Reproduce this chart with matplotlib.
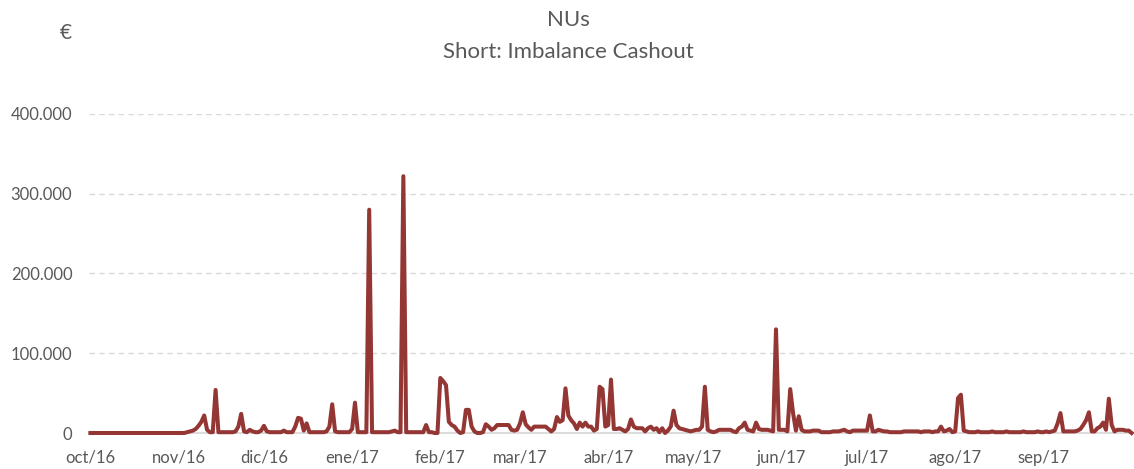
import numpy as np
import pandas as pd
import matplotlib
matplotlib.use("Agg")
import matplotlib.pyplot as plt
from matplotlib.ticker import FuncFormatter

# daily values in thousands of euro, one row per month (oct/16 .. oct/17)
oct16 = [0] * 31
nov16 = [0, 0, 0, 1, 2, 3, 5, 9, 14, 22, 4, 1, 1, 54, 1, 1, 1, 1, 1, 1,
         2, 8, 24, 2, 1, 4, 2, 1, 1, 3]
dic16 = [9, 2, 1, 1, 1, 1, 1, 3, 1, 1, 1, 8, 19, 18, 3, 12, 1, 1, 1, 1,
         1, 1, 2, 8, 36, 2, 1, 1, 1, 1, 1]
ene17 = [5, 38, 1, 1, 1, 1, 280, 1, 1, 1, 1, 1, 1, 1, 2, 3, 1, 1, 322, 1,
         1, 1, 1, 1, 1, 1, 10, 1, 1, 0, 0]
feb17 = [69, 65, 60, 14, 10, 8, 3, 0, 1, 29, 29, 8, 2, 0, 0, 1, 11, 8, 4, 6,
         10, 10, 10, 10, 10, 4, 3, 4]
mar17 = [12, 26, 11, 7, 4, 8, 8, 8, 8, 8, 5, 2, 5, 20, 14, 16, 56, 22, 16, 12,
         5, 13, 8, 13, 8, 8, 3, 5, 58, 55, 8]
abr17 = [10, 67, 5, 5, 6, 4, 2, 5, 17, 8, 6, 6, 6, 2, 6, 8, 4, 6, 1, 6,
         0, 3, 8, 28, 10, 6, 5, 4, 3, 2]
may17 = [3, 4, 4, 8, 58, 4, 2, 1, 2, 4, 4, 4, 4, 4, 2, 1, 6, 8, 13, 4,
         3, 2, 13, 5, 4, 4, 4, 3, 2, 130, 4]
jun17 = [4, 4, 2, 55, 25, 3, 21, 4, 2, 2, 2, 3, 3, 3, 1, 1, 1, 1, 2, 2,
         2, 3, 4, 2, 1, 3, 3, 3, 3, 3]
jul17 = [3, 22, 2, 2, 4, 3, 2, 2, 1, 1, 1, 1, 1, 2, 2, 2, 2, 2, 2, 1,
         2, 2, 2, 1, 2, 2, 8, 2, 3, 5, 1]
ago17 = [2, 44, 48, 3, 2, 1, 1, 1, 2, 1, 1, 1, 1, 2, 1, 1, 1, 1, 2, 1,
         1, 1, 1, 1, 2, 1, 1, 1, 1, 2, 1]
sep17 = [1, 2, 1, 2, 3, 12, 25, 2, 2, 2, 2, 2, 3, 5, 10, 16, 26, 2, 2, 6,
         8, 13, 4, 43, 10, 2, 4, 4, 4, 3]
oct17 = [3, 0]

month_labels = ["oct/16", "nov/16", "dic/16", "ene/17", "feb/17", "mar/17",
                "abr/17", "may/17", "jun/17", "jul/17", "ago/17", "sep/17"]

values = np.array(oct16 + nov16 + dic16 + ene17 + feb17 + mar17 + abr17 +
                  may17 + jun17 + jul17 + ago17 + sep17 + oct17) * 1000
dates = pd.date_range("2016-10-01", periods=len(values), freq="D")
month_starts = pd.date_range("2016-10-01", periods=len(month_labels), freq="MS")

plt.rcParams["font.family"] = ["Lato", "DejaVu Sans"]
gray = "#595959"

fig = plt.figure(figsize=(11.34, 4.69), dpi=100)
ax = fig.add_axes([89 / 1134, 36 / 469, (1133 - 89) / 1134, (433 - 114) / 469])

ax.plot(dates, values, color="#943634", lw=2.9, solid_joinstyle="round",
        clip_on=False, zorder=3)

ax.set_xlim(dates[0] - pd.Timedelta(hours=12), dates[-1] + pd.Timedelta(hours=12))
ax.set_ylim(0, 400000)
ax.set_yticks(np.arange(0, 400001, 100000))
ax.yaxis.set_major_formatter(FuncFormatter(lambda v, p: f"{int(v):,}".replace(",", ".")))
ax.set_xticks(month_starts)
ax.set_xticklabels(month_labels)

for v in range(100000, 400001, 100000):
    ax.axhline(v, color="#d9d9d9", lw=1, ls=(0, (4, 3)), zorder=1)
ax.axhline(0, color="#d9d9d9", lw=1.3, zorder=2, clip_on=False)

for s in ax.spines.values():
    s.set_visible(False)
ax.tick_params(length=0, colors=gray, labelsize=12)
ax.tick_params(axis="y", pad=12)
ax.tick_params(axis="x", pad=12)

fig.text(568 / 1134, 1 - 20 / 469, "NUs", ha="center", va="center",
         color=gray, fontsize=16)
fig.text(568 / 1134, 1 - 52 / 469, "Short: Imbalance Cashout", ha="center",
         va="center", color=gray, fontsize=16)
fig.text(66 / 1134, 1 - 33 / 469, "€", ha="center", va="center",
         color=gray, fontsize=15)

fig.savefig("out.png", dpi=100)
